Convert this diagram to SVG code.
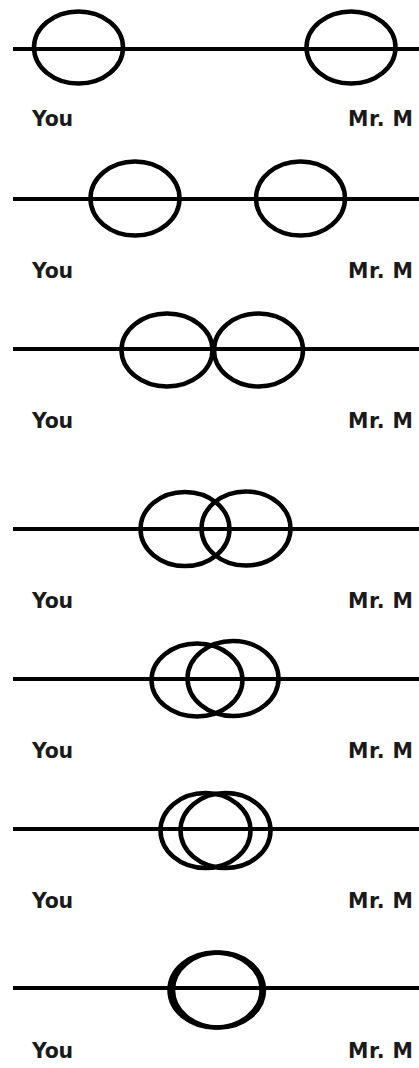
<svg xmlns="http://www.w3.org/2000/svg" width="419" height="1068" viewBox="0 0 419 1068">
<style>
.bg{fill:#fff}
.ln{stroke:#000;stroke-width:4;fill:none}
.c{stroke:#000;stroke-width:4.5;fill:none}
.t{font-family:"DejaVu Sans",Verdana,sans-serif;font-weight:bold;font-size:20.5px;fill:#1a1a1a}
</style>
<rect class="bg" x="0" y="0" width="419" height="1068"/>
<g id="connectors">
<line class="ln" x1="13" y1="49" x2="419" y2="49"/>
<line class="ln" x1="13" y1="199" x2="419" y2="199"/>
<line class="ln" x1="13" y1="349" x2="419" y2="349"/>
<line class="ln" x1="13" y1="529" x2="419" y2="529"/>
<line class="ln" x1="13" y1="679" x2="419" y2="679"/>
<line class="ln" x1="13" y1="829" x2="419" y2="829"/>
<line class="ln" x1="13" y1="988" x2="419" y2="988"/>
</g>
<g id="row1">
<ellipse class="c" cx="78.5" cy="47.5" rx="44.5" ry="36"/>
<ellipse class="c" cx="351" cy="47.5" rx="44.5" ry="36"/>
<text class="t" x="32" y="126" textLength="41">You</text>
<text class="t" x="348" y="126" textLength="65">Mr. M</text>
</g>
<g id="row2">
<ellipse class="c" cx="135" cy="198.5" rx="44.5" ry="37"/>
<ellipse class="c" cx="300.5" cy="198.5" rx="44.5" ry="37"/>
<text class="t" x="32" y="278" textLength="41">You</text>
<text class="t" x="348" y="278" textLength="65">Mr. M</text>
</g>
<g id="row3">
<ellipse class="c" cx="167" cy="350" rx="45.5" ry="36.5"/>
<ellipse class="c" cx="258.5" cy="350" rx="44.5" ry="36.5"/>
<text class="t" x="32" y="428" textLength="41">You</text>
<text class="t" x="348" y="428" textLength="65">Mr. M</text>
</g>
<g id="row4">
<ellipse class="c" cx="185" cy="529" rx="44.5" ry="37"/>
<ellipse class="c" cx="246" cy="528.5" rx="44.5" ry="37"/>
<text class="t" x="32" y="608" textLength="41">You</text>
<text class="t" x="348" y="608" textLength="65">Mr. M</text>
</g>
<g id="row5">
<ellipse class="c" cx="197" cy="680" rx="45.5" ry="36.5"/>
<ellipse class="c" cx="233" cy="678.5" rx="45.5" ry="37.5"/>
<text class="t" x="32" y="758" textLength="41">You</text>
<text class="t" x="348" y="758" textLength="65">Mr. M</text>
</g>
<g id="row6">
<ellipse class="c" cx="205.5" cy="830.5" rx="45" ry="37.5"/>
<ellipse class="c" cx="225.5" cy="830.5" rx="45" ry="37.5"/>
<text class="t" x="32" y="908" textLength="41">You</text>
<text class="t" x="348" y="908" textLength="65">Mr. M</text>
</g>
<g id="row7">
<ellipse class="c" cx="215.5" cy="990" rx="46" ry="37.5"/>
<ellipse class="c" cx="218.5" cy="990" rx="45.5" ry="37.5"/>
<text class="t" x="32" y="1058" textLength="41">You</text>
<text class="t" x="348" y="1058" textLength="65">Mr. M</text>
</g>
</svg>
